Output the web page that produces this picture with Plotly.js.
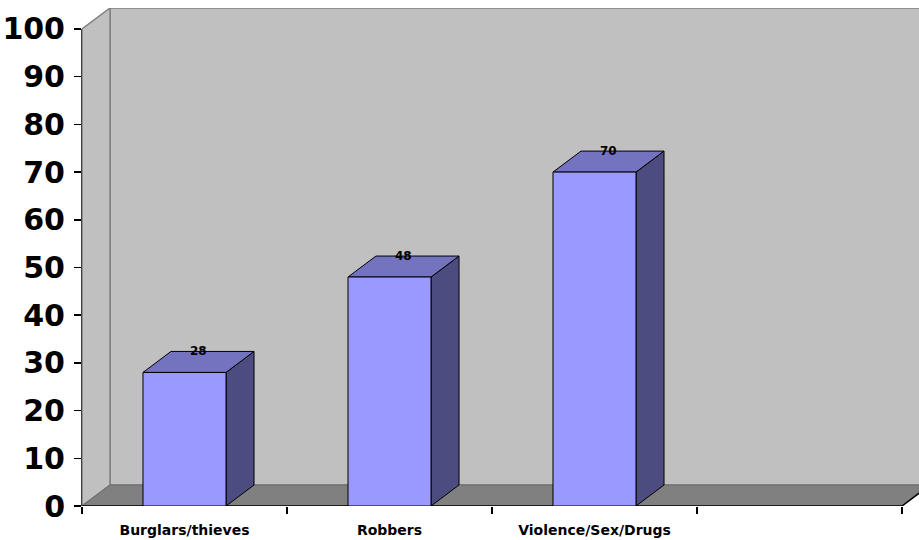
<!DOCTYPE html>
<html>
<head>
<meta charset="utf-8">
<script src="https://cdn.plot.ly/plotly-3.0.1.min.js"></script>
<style>
  html, body { margin: 0; padding: 0; background: #ffffff; }
  #chart { width: 919px; height: 540px; }
</style>
</head>
<body>
<div id="chart"></div>
<script>
// Survey categories and their values
const categories = ['Burglars/thieves', 'Robbers', 'Violence/Sex/Drugs'];
const values = [28, 48, 70];
const yTickVals = [0, 10, 20, 30, 40, 50, 60, 70, 80, 90, 100];

// Pseudo-3D box geometry (in axis units)
const slotCount = 4;          // category slots along the floor (last one empty)
const barWidth = 0.405;
const depthX = 0.1366;        // receding offset along x
const depthY = 4.4;           // receding offset along y
const yMax = 100;

const FRONT = '#9999ff', SIDE = '#4c4c80', TOP = '#7373bf';
const WALL = '#c0c0c0', FLOOR = '#808080', EDGE = '#808080';

const x0 = -0.5, x1 = slotCount - 0.5;
const xs = categories.map((_, i) => i);

function poly(pts) {
  return 'M' + pts.map(p => p[0] + ',' + p[1]).join('L') + 'Z';
}

const shapes = [];
// back wall
shapes.push({type: 'path', layer: 'below', xref: 'x', yref: 'y',
  path: poly([[x0 + depthX, depthY], [x1 + depthX, depthY], [x1 + depthX, yMax + depthY], [x0 + depthX, yMax + depthY]]),
  fillcolor: WALL, line: {color: EDGE, width: 1.5}});
// left side wall
shapes.push({type: 'path', layer: 'below', xref: 'x', yref: 'y',
  path: poly([[x0, 0], [x0 + depthX, depthY], [x0 + depthX, yMax + depthY], [x0, yMax]]),
  fillcolor: WALL, line: {color: EDGE, width: 1.5}});
// floor
shapes.push({type: 'path', layer: 'below', xref: 'x', yref: 'y',
  path: poly([[x0, 0], [x1, 0], [x1 + depthX, depthY], [x0 + depthX, depthY]]),
  fillcolor: FLOOR, line: {color: '#6a6a6a', width: 1}});
// floor front and right edges
shapes.push({type: 'line', layer: 'below', xref: 'x', yref: 'y',
  x0: x0, y0: 0, x1: x1, y1: 0, line: {color: '#000000', width: 1.5}});
shapes.push({type: 'line', layer: 'below', xref: 'x', yref: 'y',
  x0: x1, y0: 0, x1: x1 + depthX, y1: depthY, line: {color: '#000000', width: 1.5}});
// value axis line
shapes.push({type: 'line', layer: 'below', xref: 'paper', yref: 'y',
  x0: 0, y0: 0, x1: 0, y1: yMax, line: {color: '#000000', width: 1.5}});

// side and top faces of each bar
xs.forEach((x, i) => {
  const v = values[i];
  const l = x - barWidth / 2, r = x + barWidth / 2;
  shapes.push({type: 'path', layer: 'below', xref: 'x', yref: 'y',
    path: poly([[r, 0], [r + depthX, depthY], [r + depthX, v + depthY], [r, v]]),
    fillcolor: SIDE, line: {color: '#000000', width: 1}});
  shapes.push({type: 'path', layer: 'below', xref: 'x', yref: 'y',
    path: poly([[l, v], [r, v], [r + depthX, v + depthY], [l + depthX, v + depthY]]),
    fillcolor: TOP, line: {color: '#000000', width: 1}});
});

// value labels on the top faces
const annotations = xs.map((x, i) => ({
  x: x + depthX / 2, y: values[i] + depthY, xref: 'x', yref: 'y',
  text: String(values[i]), showarrow: false,
  xanchor: 'center', yanchor: 'middle',
  font: {family: 'DejaVu Sans', size: 12, color: '#000000', weight: 'bold'}
}));

const trace = {
  type: 'bar', x: xs, y: values, width: barWidth,
  marker: {color: FRONT, line: {color: '#000000', width: 1}},
  hoverinfo: 'x+y'
};

const layout = {
  width: 919, height: 540,
  margin: {l: 82, r: 0, t: 8, b: 34, pad: 0},
  paper_bgcolor: '#ffffff', plot_bgcolor: '#ffffff',
  showlegend: false,
  xaxis: {
    type: 'linear', range: [x0, x0 + 837 / 205], fixedrange: true,
    tickmode: 'array', tickvals: xs, ticktext: categories,
    ticks: '', showline: false, showgrid: false, zeroline: false,
    ticklabelstandoff: 14,
    tickfont: {family: 'DejaVu Sans', size: 14, color: '#000000', weight: 'bold'},
    minor: {tickmode: 'array', tickvals: [-0.5, 0.5, 1.5, 2.5, 3.5],
            ticks: 'outside', ticklen: 7, tickcolor: '#000000', tickwidth: 1.5, showgrid: false}
  },
  yaxis: {
    range: [0, yMax + depthY], fixedrange: true,
    tickmode: 'array', tickvals: yTickVals,
    ticks: 'outside', ticklen: 7, tickcolor: '#000000', tickwidth: 1.5,
    ticklabelstandoff: 3,
    showline: false, showgrid: false, zeroline: false,
    tickfont: {family: 'DejaVu Sans', size: 30, color: '#000000', weight: 'bold'}
  },
  shapes: shapes,
  annotations: annotations
};

Plotly.newPlot('chart', [trace], layout, {displayModeBar: false, staticPlot: true});
</script>
</body>
</html>
